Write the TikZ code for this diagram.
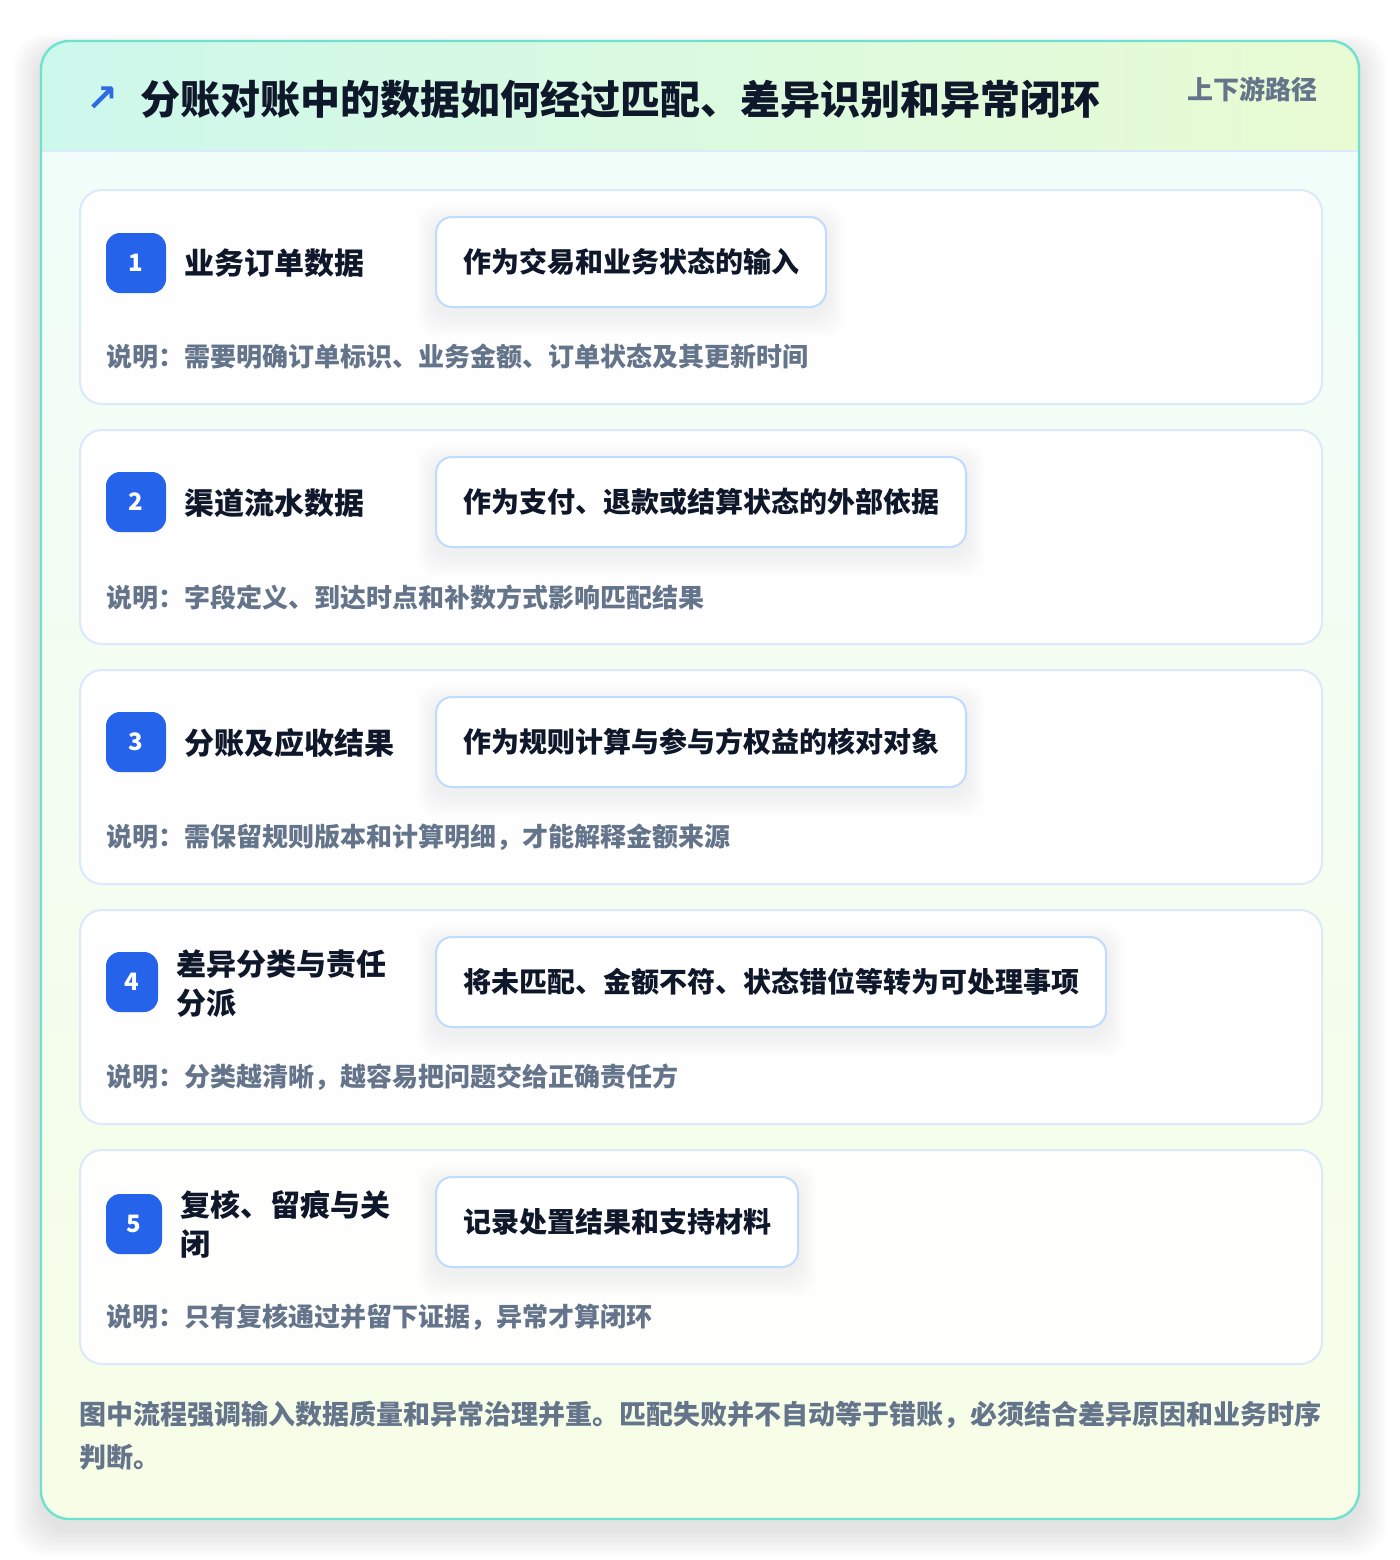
\documentclass[tikz,border=0pt]{standalone}
\usepackage{fontspec}
\setmainfont{Noto Sans CJK SC}
\newfontfamily\symfont{DejaVu Sans}
\definecolor{outerline}{HTML}{6EE2CF}
\definecolor{hdleft}{HTML}{CDF8EC}
\definecolor{hdright}{HTML}{E9FBD3}
\definecolor{bodytop}{HTML}{F0FDF9}
\definecolor{bodybot}{HTML}{F7FDE6}
\definecolor{cardline}{HTML}{DCE9FB}
\definecolor{pillline}{HTML}{BFDBFE}
\definecolor{badgeblue}{HTML}{2563EB}
\definecolor{ink}{HTML}{0F172A}
\definecolor{muted}{HTML}{64748B}
\definecolor{arrowblue}{HTML}{2F6BE0}
\pgfdeclarelayer{back}
\pgfdeclarelayer{cardlayer}
\pgfdeclarelayer{pshadow}
\pgfsetlayers{back,cardlayer,pshadow,main}
\begin{document}
\begin{tikzpicture}[x=0.5pt,y=-0.5pt,
  card/.style={draw=cardline, line width=1pt, fill=white, fill opacity=0.95, rounded corners=11pt, inner sep=0pt, anchor=north west, minimum width=621pt, minimum height=107pt},
  badge/.style={fill=badgeblue, rounded corners=7pt, text=white, font=\bfseries\fontsize{12}{14}\selectfont, inner sep=0pt, minimum height=30pt},
  steptitle/.style={anchor=west, inner sep=0pt, text=ink, font=\bfseries\fontsize{15}{19.5}\selectfont, align=left},
  pill/.style={anchor=west, draw=pillline, line width=1pt, fill=white, rounded corners=8pt, inner xsep=13.5pt, inner ysep=0pt, minimum height=45pt, text=ink, font=\bfseries\fontsize{14}{17}\selectfont},
  desc/.style={anchor=west, inner sep=0pt, text=muted, font=\bfseries\fontsize{13}{16}\selectfont},
  foot/.style={anchor=west, inner sep=0pt, text=muted, font=\bfseries\fontsize{13.5}{21}\selectfont}
]
\useasboundingbox (0,0) rectangle (1400,1560);
\begin{pgfonlayer}{back}
\fill[white] (0,0) rectangle (1400,1560);
% outer shadow
\foreach \s in {1,...,14}{
  \fill[black, opacity=0.008, rounded corners=16pt] (41-2*\s,41+10-1.2*\s) rectangle (1359+2*\s,1519+10+2*\s);
}
% outer card
\begin{scope}
\clip[rounded corners=14pt] (41,41) rectangle (1359,1519);
\fill[top color=bodytop, bottom color=bodybot] (41,151) rectangle (1359,1519);
\fill[left color=hdleft, right color=hdright] (41,41) rectangle (1359,151);
\draw[cardline, line width=1pt] (41,151) -- (1359,151);
\end{scope}
\draw[outerline, line width=1.2pt, rounded corners=14pt] (41,41) rectangle (1359,1519);
\end{pgfonlayer}

% header
\node[inner sep=0pt, text=arrowblue, font=\symfont\bfseries\fontsize{19}{19}\selectfont] (arrow) at (102,99) {↗};
\node[anchor=west, inner sep=0pt, text=ink, font=\bfseries\fontsize{20}{24}\selectfont] (title) at (140,99) {分账对账中的数据如何经过匹配、差异识别和异常闭环};
\node[anchor=east, inner sep=0pt, text=muted, font=\bfseries\fontsize{13}{16}\selectfont] (tag) at (1318,89) {上下游路径};

% cards
\begin{pgfonlayer}{cardlayer}
\node[card] (c1) at (79,189) {};
\node[card] (c2) at (79,429) {};
\node[card] (c3) at (79,669) {};
\node[card] (c4) at (79,909) {};
\node[card] (c5) at (79,1149) {};
\end{pgfonlayer}

% step 1
\node[badge, minimum width=30pt] (b1) at (136,263) {1};
\node[steptitle] (t1) at (184,263) {业务订单数据};
\node[pill] (p1) at (435,262) {作为交易和业务状态的输入};
\node[desc] (d1) at (106,357) {说明：需要明确订单标识、业务金额、订单状态及其更新时间};

% step 2
\node[badge, minimum width=30pt] (b2) at (136,502) {2};
\node[steptitle] (t2) at (184,503) {渠道流水数据};
\node[pill] (p2) at (435,502) {作为支付、退款或结算状态的外部依据};
\node[desc] (d2) at (106,597) {说明：字段定义、到达时点和补数方式影响匹配结果};

% step 3
\node[badge, minimum width=30pt] (b3) at (136,742) {3};
\node[steptitle] (t3) at (184,743) {分账及应收结果};
\node[pill] (p3) at (435,742) {作为规则计算与参与方权益的核对对象};
\node[desc] (d3) at (106,837) {说明：需保留规则版本和计算明细，才能解释金额来源};

% step 4
\node[badge, minimum width=26pt] (b4) at (132,982) {4};
\node[steptitle] (t4) at (176,984) {差异分类与责任\\分派};
\node[pill] (p4) at (435,982) {将未匹配、金额不符、状态错位等转为可处理事项};
\node[desc] (d4) at (106,1077) {说明：分类越清晰，越容易把问题交给正确责任方};

% step 5
\node[badge, minimum width=28pt] (b5) at (134,1224) {5};
\node[steptitle] (t5) at (180,1224) {复核、留痕与关\\闭};
\node[pill] (p5) at (435,1222) {记录处置结果和支持材料};
\node[desc] (d5) at (106,1317) {说明：只有复核通过并留下证据，异常才算闭环};

% pill shadows
\begin{pgfonlayer}{pshadow}
\foreach \p in {p1,p2,p3,p4,p5}{
  \foreach \s in {1,...,7}{
    \fill[black, opacity=0.007, rounded corners=10pt]
      ([xshift=-1.2*\s pt, yshift=1.2*\s pt-3pt]\p.north west) rectangle ([xshift=1.2*\s pt, yshift=-1.6*\s pt-3pt]\p.south east);
  }
}
\end{pgfonlayer}

% footer
\node[foot] (f1) at (79,1415) {图中流程强调输入数据质量和异常治理并重。匹配失败并不自动等于错账，必须结合差异原因和业务时序};
\node[foot] (f2) at (79,1457) {判断。};
\end{tikzpicture}
\end{document}
